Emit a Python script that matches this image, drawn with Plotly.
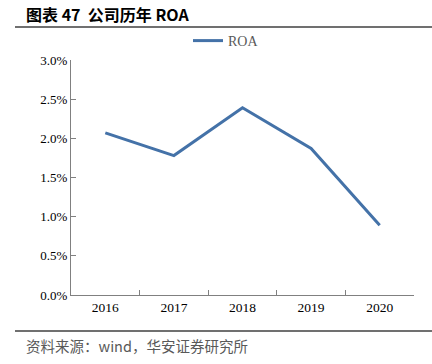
import plotly.graph_objects as go

years = ["2016", "2017", "2018", "2019", "2020"]
roa = [0.0207, 0.0178, 0.0239, 0.0187, 0.0089]
y_ticks = [0, 0.005, 0.01, 0.015, 0.02, 0.025, 0.03]

W, H = 432, 364
L, R, T, B = 71, 18, 60, 69
PW, PH = W - L - R, H - T - B


def px(xr):  # reference x pixel -> paper
    return (xr - L) / PW


def py(yr):  # reference y pixel -> paper
    return (H - yr - B) / PH


fig = go.Figure()
fig.add_trace(go.Scatter(x=years, y=roa, mode="lines", name="ROA",
                         line=dict(color="#4472A8", width=3)))

fig.update_layout(
    width=W, height=H,
    margin=dict(l=L, r=R, t=T, b=B, autoexpand=False),
    paper_bgcolor="white", plot_bgcolor="white",
    font=dict(family="Liberation Serif", size=13, color="#000000"),
    showlegend=True,
    legend=dict(orientation="h", x=px(226), xanchor="center", y=py(41), yanchor="middle",
                font=dict(family="Liberation Serif", size=14, color="#595959"),
                bgcolor="rgba(0,0,0,0)"),
    xaxis=dict(type="category", range=[-0.5, 4.5], showline=True, linecolor="#808080",
               linewidth=1, ticks="inside", ticklen=5, tickcolor="#808080",
               tickson="boundaries", showgrid=False, zeroline=False,
               tickfont=dict(size=13.5)),
    yaxis=dict(range=[0, 0.03], tickvals=y_ticks, tickformat=".1%", showline=True,
               linecolor="#808080", linewidth=1, ticks="inside", ticklen=5,
               tickcolor="#808080", showgrid=False, zeroline=False,
               tickfont=dict(size=13)),
)

fig.add_shape(type="line", xref="paper", yref="paper", x0=px(15), x1=px(432),
              y0=py(27), y1=py(27), line=dict(color="#404040", width=1.5))
fig.add_shape(type="line", xref="paper", yref="paper", x0=px(15), x1=px(432),
              y0=py(331), y1=py(331), line=dict(color="#404040", width=1.5))

fig.add_annotation(text="<b>图表 47  公司历年 ROA</b>", xref="paper", yref="paper",
                   x=px(24), y=py(14), xanchor="left", yanchor="middle",
                   showarrow=False,
                   font=dict(family="Noto Sans CJK SC", size=16, color="#000000"))
fig.add_annotation(text="资料来源：wind，华安证券研究所", xref="paper", yref="paper",
                   x=px(24), y=py(345), xanchor="left", yanchor="middle",
                   showarrow=False,
                   font=dict(family="Noto Sans CJK SC", size=14.5, color="#595959"))

fig.write_html("out.html", config={"displayModeBar": False},
               post_script="document.body.style.margin='0px';"
                           "document.body.style.overflow='hidden';")
